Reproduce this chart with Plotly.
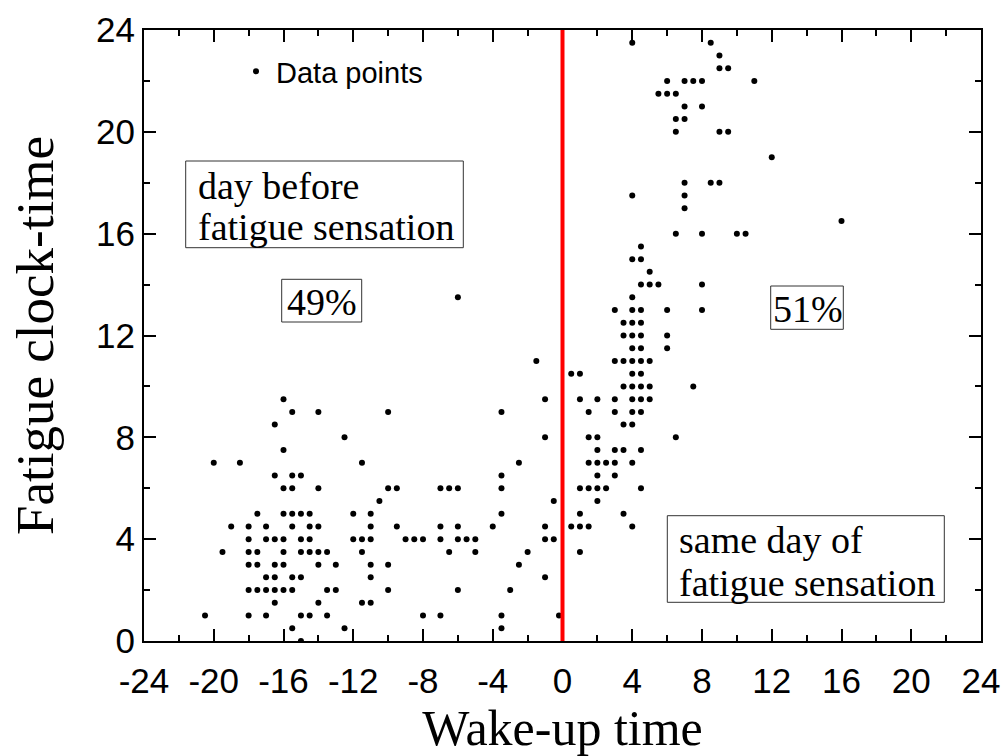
import plotly.graph_objects as go

# ---- data ----
wake_x = [
    -16, -15.5, -14, -16.5, -12.5, -16, -20, -18.5,
    -16.5, -15.5, -15,
    -16, -15.5, -14,
    -17.5, -16, -15.5, -15, -14.5,
    -19, -18, -17, -15.5, -14.5, -14,
    -18, -17, -16.5, -16, -15, -14.5,
    -19.5, -18, -17.5, -16, -15, -14.5, -14, -13.5,
    -18, -17.5, -16.5, -16, -14, -13,
    -17, -16.5, -15.5, -15,
    -18, -17.5, -17, -16.5, -16, -15.5, -13.5, -13,
    -16.5, -14,
    -20.5, -18, -17, -15, -14.5, -13.5,
    -15.5, -12.5,
    -15,
    -1, -10, -3.5, -1, -11.5, -2.5, -3.5,
    -10, -9.5, -7, -6.5, -6, -3.5,
    -10.5, -0.5,
    -12, -11, -3.5,
    -11, -9.5, -7, -6, -4, -1, 0.5,
    -12, -11.5, -11, -9, -8.5, -8, -7, -6, -5.5, -5, -1, -0.5,
    -11.5, -6.5, -5, -2,
    -11, -10, -2.5,
    -11, -1,
    -10, -6, -3,
    -11.5, -11,
    -8, -7, -3.5, -0.2,
    -3.5,
    -6, -1.5,
    3.5, 4, 4.5, 6,
    4, 4.5, 6,
    3, 3.5, 4, 4.5, 5,
    0.5, 1, 4, 4.5,
    3.5, 4, 4.5, 5, 7.5,
    1, 2, 3, 4, 4.5, 5,
    1.5, 3, 4, 4.5,
    3.5, 4,
    1.5, 2, 6.5,
    2, 3, 3.5, 4.5,
    1.5, 2, 2.5, 3, 4,
    2, 3,
    1, 1.5, 2, 2.5, 4.5,
    2,
    1, 3.5,
    1, 1.5, 4,
    1,
    4, 8.5, 9, 9, 9.5,
    6, 7, 7.5, 8, 11,
    5.5, 6, 6.5,
    7, 8,
    6.5, 7,
    6.5, 9, 9.5,
    12,
    7, 8.5, 9,
    4, 7,
    7,
    16,
    6.5, 8, 10, 10.5,
    4.5,
    4, 4.5,
    5,
    4.5, 5, 5.5, 8,
    4,
    3, 4, 4.5, 6, 8,
    3.5, 4, 4.5,
]
fatigue_y = [
    9.5, 9, 9, 8.5, 8, 7.5, 7, 7,
    6.5, 6.5, 6.5,
    6, 6, 6,
    5, 5, 5, 5, 5,
    4.5, 4.5, 4.5, 4.5, 4.5, 4.5,
    4, 4, 4, 4, 4, 4,
    3.5, 3.5, 3.5, 3.5, 3.5, 3.5, 3.5, 3.5,
    3, 3, 3, 3, 3, 3,
    2.5, 2.5, 2.5, 2.5,
    2, 2, 2, 2, 2, 2, 2, 2,
    1.5, 1.5,
    1, 1, 1, 1, 1, 1,
    0.5, 0.5,
    0,
    9.5, 9, 9, 8, 7, 7, 6.5,
    6, 6, 6, 6, 6, 6,
    5.5, 5.5,
    5, 5, 5,
    4.5, 4.5, 4.5, 4.5, 4.5, 4.5, 4.5,
    4, 4, 4, 4, 4, 4, 4, 4, 4, 4, 4, 4,
    3.5, 3.5, 3.5, 3.5,
    3, 3, 3,
    2.5, 2.5,
    2, 2, 2,
    1.5, 1.5,
    1, 1, 1, 1,
    0.5,
    13.5, 11,
    12, 12, 12, 12,
    11.5, 11.5, 11.5,
    11, 11, 11, 11, 11,
    10.5, 10.5, 10.5, 10.5,
    10, 10, 10, 10, 10,
    9.5, 9.5, 9.5, 9.5, 9.5, 9.5,
    9, 9, 9, 9,
    8.5, 8.5,
    8, 8, 8,
    7.5, 7.5, 7.5, 7.5,
    7, 7, 7, 7, 7,
    6.5, 6.5,
    6, 6, 6, 6, 6,
    5.5,
    5, 5,
    4.5, 4.5, 4.5,
    3.5,
    23.5, 23.5, 23, 22.5, 22.5,
    22, 22, 22, 22, 22,
    21.5, 21.5, 21.5,
    21, 21,
    20.5, 20.5,
    20, 20, 20,
    19,
    18, 18, 18,
    17.5, 17.5,
    17,
    16.5,
    16, 16, 16, 16,
    15.5,
    15, 15,
    14.5,
    14, 14, 14, 14,
    13.5,
    13, 13, 13, 13, 13,
    12.5, 12.5, 12.5,
]

x_ticks = [-24, -20, -16, -12, -8, -4, 0, 4, 8, 12, 16, 20, 24]
y_ticks = [0, 4, 8, 12, 16, 20, 24]

# ---- layout constants (pixels) ----
W, H = 1005, 756
L, R, T, B = 144, 981, 30, 641
XMIN, XMAX, YMIN, YMAX = -24, 24, 0, 24


def px_x(px):
    return XMIN + (px - L) / (R - L) * (XMAX - XMIN)


def px_y(py):
    return YMIN + (B - py) / (B - T) * (YMAX - YMIN)


SERIF = "Liberation Serif"
SANS = "Liberation Sans"

fig = go.Figure()
fig.add_trace(go.Scatter(
    x=wake_x, y=fatigue_y, mode="markers", name="Data points",
    marker=dict(color="black", size=6, line=dict(width=0)),
))

# vertical red line at wake-up time 0
fig.add_shape(type="line", x0=0, x1=0, y0=YMIN, y1=YMAX, xref="x", yref="y",
              line=dict(color="#ff0000", width=4), layer="above")

# boxes
boxes = [
    (185.7, 161, 463.3, 247.7),
    (281.7, 279.3, 361.7, 322),
    (770.7, 286, 843.3, 329.3),
    (667.3, 515.7, 944.3, 602.3),
]
for (x0, y0, x1, y1) in boxes:
    fig.add_shape(type="rect", xref="x", yref="y",
                  x0=px_x(x0), x1=px_x(x1), y0=px_y(y0), y1=px_y(y1),
                  line=dict(color="#333333", width=1), fillcolor="rgba(0,0,0,0)")

texts = [
    ("day before", 196, 186, "left"),
    ("fatigue sensation", 196, 227, "left"),
    ("49%", 322, 302, "center"),
    ("51%", 808, 309, "center"),
    ("same day of", 677, 540, "left"),
    ("fatigue sensation", 677, 583, "left"),
]
for (t, px, py, anchor) in texts:
    fig.add_annotation(x=px_x(px), y=px_y(py), xref="x", yref="y", text=t,
                       showarrow=False, xanchor=anchor, yanchor="middle",
                       font=dict(family=SERIF, size=38, color="black"))

axis_common = dict(
    showline=True, linecolor="black", linewidth=2, mirror="ticks",
    ticks="inside", ticklen=12, tickwidth=2, tickcolor="black",
    showgrid=False, zeroline=False,
    tickfont=dict(family=SANS, size=35, color="black"),
    minor=dict(ticks="inside", ticklen=6, tickwidth=2, tickcolor="black", showgrid=False),
)

fig.update_xaxes(range=[XMIN, XMAX], tickvals=x_ticks, ticktext=[str(v) for v in x_ticks],
                 minor_dtick=2, minor_tick0=0, ticklabelstandoff=8,
                 title=dict(text="Wake-up time", font=dict(family=SERIF, size=50, color="black"), standoff=6),
                 **axis_common)
fig.update_yaxes(range=[YMIN, YMAX], tickvals=y_ticks, ticktext=[str(v) for v in y_ticks],
                 minor_dtick=2, minor_tick0=0,
                 title=dict(text="Fatigue clock-time", font=dict(family=SERIF, size=53, color="black"), standoff=26),
                 **axis_common)

fig.update_layout(
    width=W, height=H,
    margin=dict(l=L, r=W - R, t=T, b=H - B, autoexpand=False),
    paper_bgcolor="white", plot_bgcolor="white",
    showlegend=True,
    legend=dict(x=(236 - L) / (R - L), y=(B - 46) / (B - T), xanchor="left", yanchor="top",
                bgcolor="rgba(0,0,0,0)", borderwidth=0,
                font=dict(family=SANS, size=29, color="black")),
)

fig.write_html("out.html")
